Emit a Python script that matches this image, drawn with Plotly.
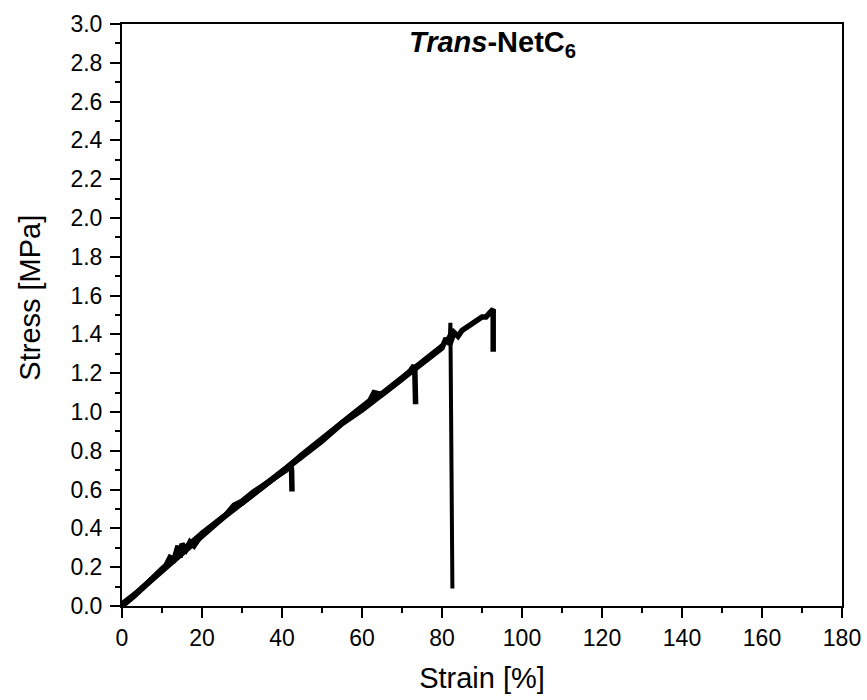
import plotly.graph_objects as go

# Sample 1 (breaks at ~42 %)
s1_strain = [0, 3, 6, 9, 11, 12, 13, 14, 14.5, 15, 16, 17, 18, 20, 23, 26, 28, 30, 33, 36, 39, 41, 42.2, 42.4, 42.5]
s1_stress = [0.0, 0.05, 0.11, 0.17, 0.21, 0.25, 0.24, 0.31, 0.25, 0.32, 0.29, 0.33, 0.31, 0.37, 0.42, 0.47, 0.52, 0.54, 0.59, 0.63, 0.67, 0.70, 0.73, 0.70, 0.59]

# Sample 2 (breaks at ~73 %)
s2_strain = [0, 5, 10, 15, 20, 25, 28, 30, 35, 40, 45, 50, 55, 60, 62, 63, 65, 70, 72, 73.0, 73.2, 73.4]
s2_stress = [0.01, 0.09, 0.19, 0.28, 0.37, 0.45, 0.51, 0.53, 0.61, 0.69, 0.78, 0.86, 0.94, 1.02, 1.06, 1.10, 1.09, 1.17, 1.21, 1.24, 1.22, 1.04]

# Sample 3 (breaks at ~82 %)
s3_strain = [0, 5, 10, 15, 20, 25, 30, 35, 40, 45, 50, 55, 60, 65, 70, 75, 78, 80, 81, 82, 82.1, 82.6]
s3_stress = [0.0, 0.10, 0.19, 0.29, 0.38, 0.46, 0.54, 0.62, 0.70, 0.78, 0.86, 0.95, 1.03, 1.10, 1.18, 1.26, 1.31, 1.34, 1.36, 1.40, 1.46, 0.09]

# Sample 4 (breaks at ~93 %)
s4_strain = [0, 5, 10, 15, 20, 25, 30, 35, 40, 45, 50, 55, 60, 65, 70, 75, 78, 80, 81, 82, 83, 84, 85, 88, 90, 91, 92.5, 92.8, 92.8]
s4_stress = [0.0, 0.09, 0.18, 0.27, 0.36, 0.45, 0.53, 0.61, 0.69, 0.77, 0.85, 0.94, 1.01, 1.09, 1.17, 1.25, 1.30, 1.33, 1.38, 1.35, 1.41, 1.39, 1.42, 1.46, 1.49, 1.49, 1.53, 1.53, 1.31]

x_ticks = [0, 20, 40, 60, 80, 100, 120, 140, 160, 180]
y_ticks = [round(0.2 * i, 1) for i in range(16)]
y_ticklabels = [f"{v:.1f}" for v in y_ticks]

fig = go.Figure()
widths = [5.5, 5.5, 4, 5.5]
for (xs, ys), w in zip([(s1_strain, s1_stress), (s2_strain, s2_stress), (s3_strain, s3_stress), (s4_strain, s4_stress)], widths):
    fig.add_trace(go.Scatter(x=xs, y=ys, mode="lines",
                             line=dict(color="black", width=w), showlegend=False))

font_family = "Liberation Sans, Arial, sans-serif"
axis_common = dict(showline=True, linecolor="black", linewidth=2, mirror=True,
                   ticks="outside", ticklen=10, tickwidth=2, tickcolor="black",
                   showgrid=False, zeroline=False, automargin=False)

fig.update_xaxes(range=[0, 180], tickvals=x_ticks, ticktext=[str(v) for v in x_ticks],
                 tickfont=dict(family=font_family, size=23, color="black"),
                 minor=dict(ticks="outside", ticklen=5, tickwidth=2, tickcolor="black", dtick=10, tick0=0),
                 title=dict(text="Strain [%]", font=dict(family=font_family, size=29, color="black"), standoff=18),
                 **axis_common)
fig.update_yaxes(range=[0, 3.0], tickvals=y_ticks, ticktext=y_ticklabels,
                 tickfont=dict(family=font_family, size=23, color="black"), ticklabelstandoff=3,
                 minor=dict(ticks="outside", ticklen=5, tickwidth=2, tickcolor="black", dtick=0.1, tick0=0),
                 **axis_common)

# y-axis title (placed as annotation to match its vertical offset in the reference)
fig.add_annotation(text="Stress [MPa]", x=-0.127, y=0.529, xref="paper", yref="paper",
                   xanchor="center", yanchor="middle", textangle=-90, showarrow=False,
                   font=dict(family=font_family, size=29, color="black"))

fig.add_annotation(text="<b><i>Trans</i>-NetC<sub>6</sub></b>", x=0.515, y=0.966,
                   xref="paper", yref="paper", xanchor="center", yanchor="middle",
                   showarrow=False, font=dict(family=font_family, size=29, color="black"))

fig.update_layout(width=867, height=700, plot_bgcolor="white", paper_bgcolor="white",
                  margin=dict(l=122, r=25, t=24, b=94))

fig.write_html("out.html")
